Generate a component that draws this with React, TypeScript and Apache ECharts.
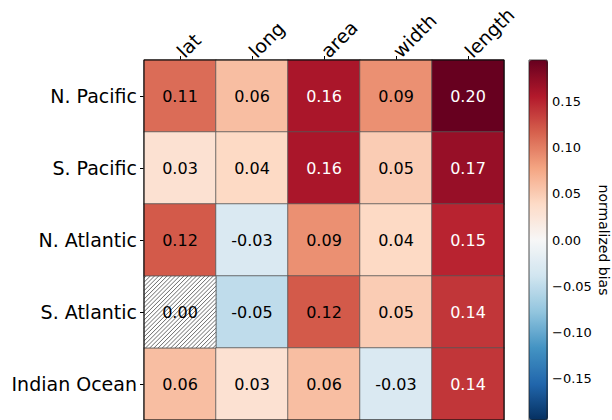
import React, { useEffect, useRef } from "react";
import * as echarts from "echarts";

const regions = ["N. Pacific", "S. Pacific", "N. Atlantic", "S. Atlantic", "Indian Ocean"];
const metrics = ["lat", "long", "area", "width", "length"];
const nPacific = [0.11, 0.06, 0.16, 0.09, 0.2];
const sPacific = [0.03, 0.04, 0.16, 0.05, 0.17];
const nAtlantic = [0.12, -0.03, 0.09, 0.04, 0.15];
const sAtlantic = [0.0, -0.05, 0.12, 0.05, 0.14];
const indianOcean = [0.06, 0.03, 0.06, -0.03, 0.14];
const hatchedCells = [[0, 3]]; // [metric index, region index]
const colorbarTicks = [-0.15, -0.1, -0.05, 0.0, 0.05, 0.1, 0.15];
const colorbarMin = -0.195;
const colorbarMax = 0.195;
const colorbarName = "normalized bias";

const rows = [nPacific, sPacific, nAtlantic, sAtlantic, indianOcean];
const RDBU_R = [
  "#053061", "#2166ac", "#4393c3", "#92c5de", "#d1e5f0", "#f7f7f7",
  "#fddbc7", "#f4a582", "#d6604d", "#b2182b", "#67001f",
];
const FONT = "DejaVu Sans";

function isHatched(x: number, y: number) {
  return hatchedCells.some((c) => c[0] === x && c[1] === y);
}

export default function App() {
  const ref = useRef<HTMLDivElement>(null);
  useEffect(() => {
    if (!ref.current) return;
    const chart = echarts.init(ref.current, undefined, { renderer: "svg" });
    const heatData: any[] = [];
    const hatchData: any[] = [];
    rows.forEach((vals, y) => {
      vals.forEach((v, x) => {
        if (isHatched(x, y)) {
          hatchData.push([x, y, v]);
        } else {
          heatData.push({
            value: [x, y, v],
            label: { color: Math.abs(v) > 0.13 ? "#ffffff" : "#000000" },
          });
        }
      });
    });

    const option: any = {
      animation: false,
      backgroundColor: "#ffffff",
      grid: [
        { left: 144, top: 60, width: 360, height: 360, show: true, z: 10, backgroundColor: "transparent", borderColor: "#000", borderWidth: 1 },
        { left: 529, top: 60, width: 19, height: 360, show: true, z: 10, backgroundColor: "transparent", borderColor: "#222", borderWidth: 0.8 },
      ],
      xAxis: [
        {
          type: "category",
          gridIndex: 0,
          data: metrics,
          position: "top",
          axisLine: { show: false },
          axisTick: { show: true, alignWithLabel: true, length: 4, lineStyle: { color: "#000" } },
          axisLabel: { rotate: -45, fontSize: 19, fontFamily: FONT, color: "#000", margin: 6 },
          splitLine: { show: false },
        },
        {
          type: "value",
          gridIndex: 1,
          show: false,
          min: 0,
          max: 1,
        },
      ],
      yAxis: [
        {
          type: "category",
          gridIndex: 0,
          data: regions,
          inverse: true,
          axisLine: { show: false },
          axisTick: { show: true, alignWithLabel: true, length: 4, lineStyle: { color: "#000" } },
          axisLabel: { fontSize: 19, fontFamily: FONT, color: "#000", margin: 7 },
          splitLine: { show: false },
        },
        {
          type: "value",
          gridIndex: 1,
          position: "right",
          min: colorbarMin,
          max: colorbarMax,
          axisLine: { show: false },
          axisTick: { show: true, length: 4, lineStyle: { color: "#000" }, customValues: colorbarTicks },
          axisLabel: {
            fontSize: 13,
            fontFamily: FONT,
            color: "#000",
            margin: 5,
            customValues: colorbarTicks,
            formatter: (v: number) => (v < 0 ? "\u2212" + Math.abs(v).toFixed(2) : v.toFixed(2)),
          },
          splitLine: { show: false },
          name: colorbarName,
          nameLocation: "middle",
          nameRotate: -90,
          nameGap: 50,
          nameTextStyle: { fontSize: 14, fontFamily: FONT, color: "#000" },
        },
      ],
      visualMap: {
        type: "continuous",
        seriesIndex: 0,
        min: colorbarMin,
        max: colorbarMax,
        calculable: false,
        orient: "vertical",
        left: 529,
        top: 60,
        itemWidth: 19,
        itemHeight: 360,
        padding: 0,
        text: null,
        inRange: { color: RDBU_R },
      },
      series: [
        {
          type: "heatmap",
          xAxisIndex: 0,
          yAxisIndex: 0,
          data: heatData,
          itemStyle: { borderColor: "#555", borderWidth: 0.8 },
          label: {
            show: true,
            fontSize: 16,
            fontFamily: FONT,
            formatter: (p: any) => p.value[2].toFixed(2),
          },
          emphasis: { disabled: true },
        },
        {
          type: "custom",
          xAxisIndex: 0,
          yAxisIndex: 0,
          data: hatchData,
          z: 3,
          renderItem: (params: any, api: any) => {
            const c = api.coord([api.value(0), api.value(1)]);
            const s = api.size([1, 1]);
            const x0 = c[0] - s[0] / 2;
            const y0 = c[1] - s[1] / 2;
            const x1 = x0 + s[0];
            const y1 = y0 + s[1];
            const children: any[] = [
              { type: "rect", shape: { x: x0, y: y0, width: s[0], height: s[1] }, style: { fill: "#fff", stroke: "none" } },
            ];
            const step = 4.2;
            for (let cc = x0 + y0 + step / 2; cc < x1 + y1; cc += step) {
              const xa = Math.max(x0, cc - y1);
              const xb = Math.min(x1, cc - y0);
              if (xb <= xa) continue;
              children.push({
                type: "line",
                shape: { x1: xa, y1: cc - xa, x2: xb, y2: cc - xb },
                style: { stroke: "#444", lineWidth: 0.8 },
              });
            }
            children.push({
              type: "rect",
              shape: { x: x0, y: y0, width: s[0], height: s[1] },
              style: { fill: "none", stroke: "#555", lineWidth: 0.8 },
            });
            children.push({
              type: "text",
              style: {
                text: api.value(2).toFixed(2),
                x: c[0],
                y: c[1],
                align: "center",
                verticalAlign: "middle",
                fontSize: 16,
                fontFamily: FONT,
                fill: "#000",
              },
            });
            return { type: "group", children };
          },
        },
      ],
    };
    chart.setOption(option);
    return () => chart.dispose();
  }, []);
  return (
    <div
      ref={ref}
      style={{ position: "fixed", left: 0, top: 0, width: 612, height: 420 }}
    />
  );
}
